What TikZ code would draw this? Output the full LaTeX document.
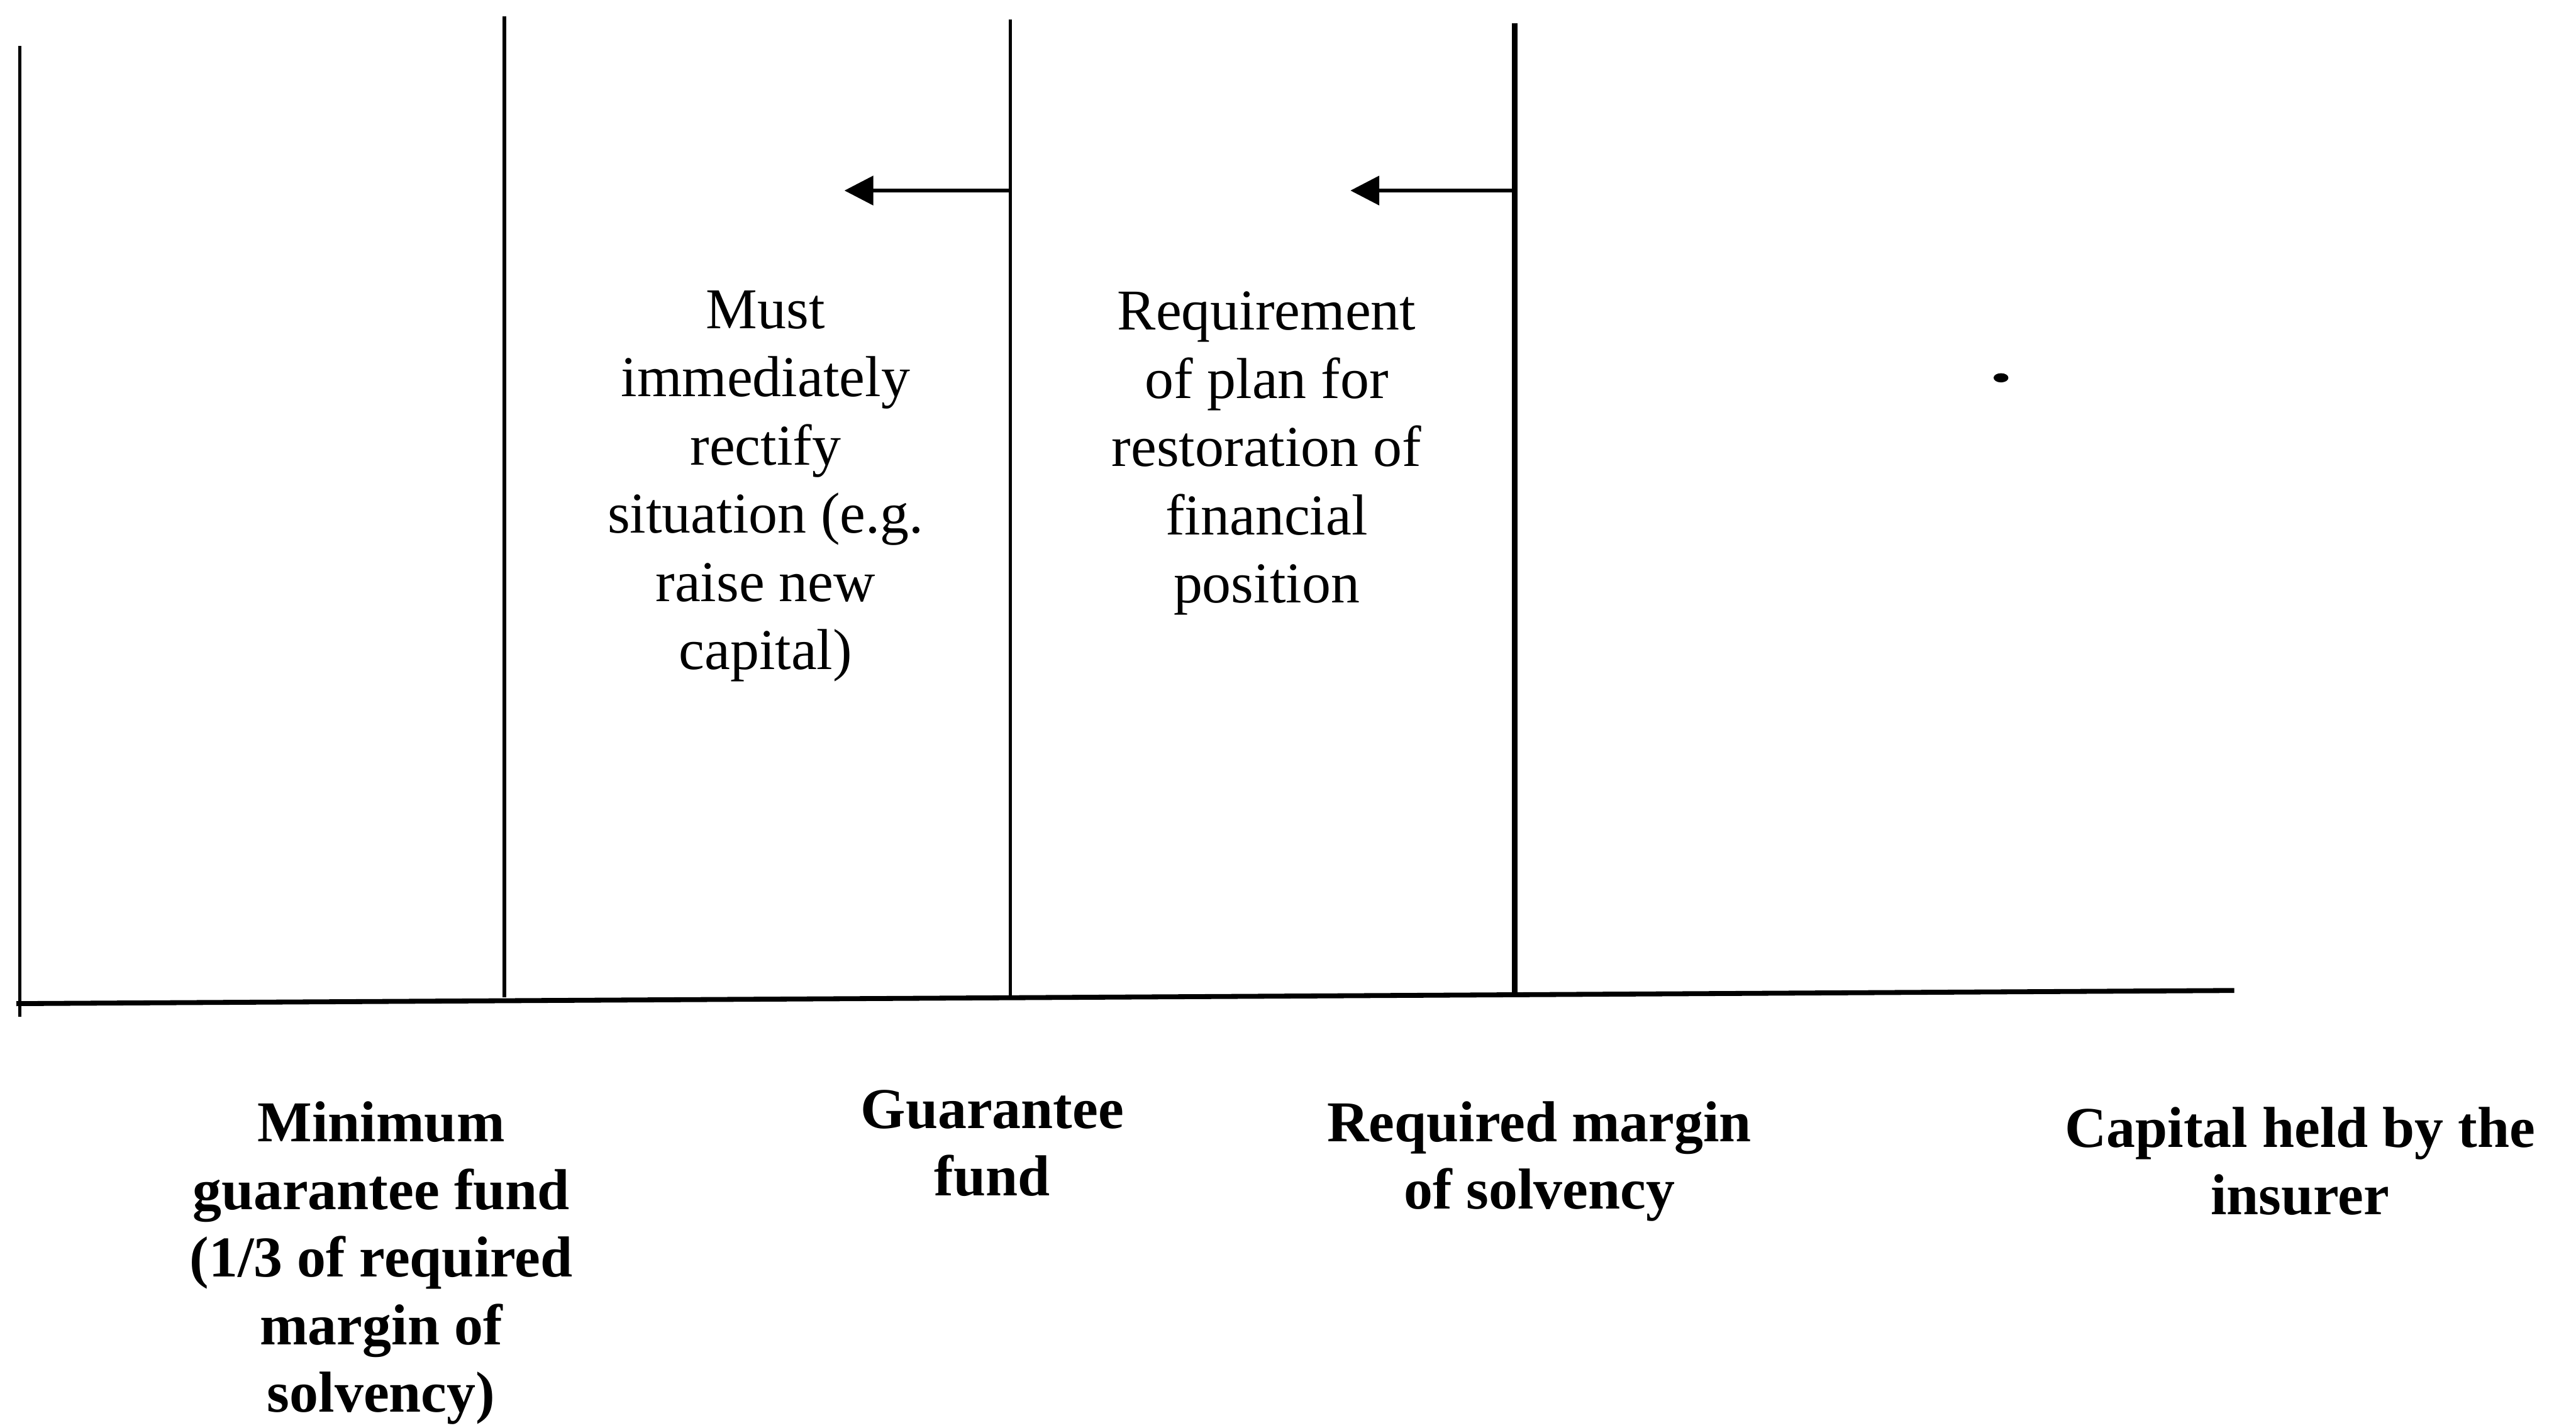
\documentclass[tikz,border=0pt]{standalone}
\usepackage{fontspec}
\setmainfont{Liberation Serif}
\usetikzlibrary{arrows.meta}

\begin{document}
\begin{tikzpicture}[x=0.01cm,y=-0.01cm,>={Triangle[length=5pt,width=5pt]},font=\fontsize{10}{11.8}\selectfont]
  \useasboundingbox (0,0) rectangle (1568,869);
  \tikzset{level/.style={line width=0.6pt},
           lbl/.style={align=center,inner sep=0pt},
           axlbl/.style={lbl,font=\fontsize{10}{11.7}\selectfont\bfseries}}
  % axis
  \coordinate (o) at (10,611);
  \coordinate (xend) at (1360,603);
  \draw[line width=0.85pt] (o) -- (xend);
  % levels
  \coordinate (l1t) at (12,28);   \coordinate (l1b) at (12,619);
  \coordinate (l2t) at (307,10);  \coordinate (l2b) at (307,607);
  \coordinate (l3t) at (615,12);  \coordinate (l3b) at (615,606);
  \coordinate (l4t) at (922,14);  \coordinate (l4b) at (922,606);
  \draw[level] (l1t) -- (l1b);
  \draw[level] (l2t) -- (l2b);
  \draw[level] (l3t) -- (l3b);
  \draw[line width=1pt] (l4t) -- (l4b);
  % actions
  \coordinate (a1) at (615,116); \coordinate (t1) at (514,116);
  \coordinate (a2) at (922,116); \coordinate (t2) at (822,116);
  \draw[->,line width=0.65pt] (a1) -- (t1);
  \draw[->,line width=0.65pt] (a2) -- (t2);
  \node[lbl] (must) at (466,296) {Must\\immediately\\rectify\\situation (e.g.\\raise new\\capital)};
  \node[lbl] (plan) at (771,276) {Requirement\\of plan for\\restoration of\\financial\\position};
  \fill (1218,230) ellipse (4.5 and 2.8);
  % axis labels
  \node[axlbl] (mgf) at (232,769) {Minimum\\guarantee fund\\(1/3 of required\\margin of\\solvency)};
  \node[axlbl] (gf) at (604,696) {Guarantee\\fund};
  \node[axlbl] (rms) at (937,707) {Required margin\\of solvency};
  \node[axlbl] (cap) at (1400,707) {Capital held by the\\insurer};
\end{tikzpicture}
\end{document}
